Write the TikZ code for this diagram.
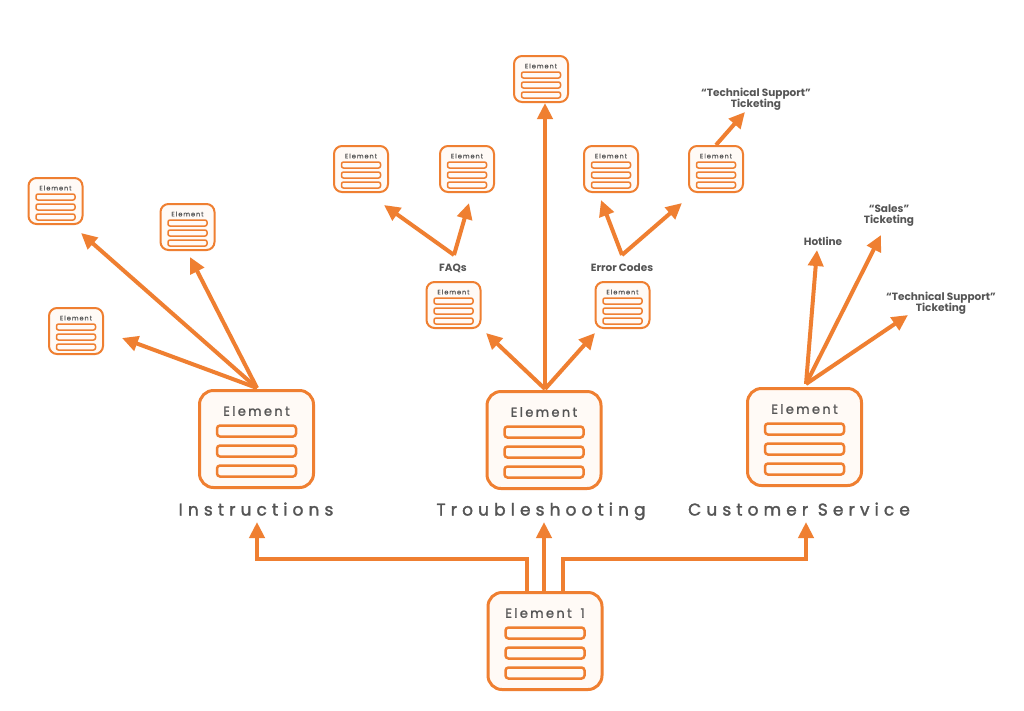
\documentclass[tikz,border=0pt]{standalone}
\usepackage{fontspec}
\setmainfont{Poppins}
\usetikzlibrary{arrows.meta,calc}
\definecolor{org}{HTML}{EF7F31}
\definecolor{boxfill}{HTML}{FFFAF6}
\definecolor{txt}{HTML}{555555}
\tikzset{
 bigbox/.style={draw=org, fill=boxfill, line width=3pt, rounded corners=14pt, minimum width=114pt, minimum height=97pt, anchor=north, inner sep=0pt},
 bigbar/.style={draw=org, line width=2.5pt, rounded corners=3pt, minimum width=79pt, minimum height=11pt, inner sep=0pt},
 bigtitle/.style={text=txt, font=\fontsize{13pt}{15pt}\selectfont\addfontfeature{LetterSpace=18,FakeBold=1.5}, inner sep=0pt},
 smallbox/.style={draw=org, fill=boxfill, line width=2pt, rounded corners=8pt, minimum width=54pt, minimum height=46pt, anchor=north, inner sep=0pt},
 smallbar/.style={draw=org, line width=1.5pt, rounded corners=2pt, minimum width=39pt, minimum height=6pt, inner sep=0pt},
 smalltitle/.style={text=txt, font=\fontsize{6.5pt}{8pt}\selectfont\addfontfeature{LetterSpace=15,FakeBold=1}, inner sep=0pt},
 seclabel/.style={text=txt, font=\fontsize{17pt}{20pt}\selectfont\addfontfeature{LetterSpace=30,FakeBold=1.8}, inner sep=0pt, anchor=base},
 lbl/.style={text=txt, font=\bfseries\fontsize{10.5pt}{12pt}\selectfont, align=center, inner sep=0pt},
 arr/.style={draw=org, line width=4pt, -{Triangle[length=16pt,width=15pt]}},
}
\newcommand\bigel[4]{%
 \node[bigbox] (#1) at (#2,#3) {};
 \node[bigtitle] (#1t) at ($(#1.north)+(0,22)$) {#4};
 \node[bigbar] (#1a) at ($(#1.north)+(0,42)$) {};
 \node[bigbar] (#1b) at ($(#1.north)+(0,62)$) {};
 \node[bigbar] (#1c) at ($(#1.north)+(0,82)$) {};
}
\newcommand\smallel[3]{%
 \node[smallbox] (#1) at (#2,#3) {};
 \node[smalltitle] (#1t) at ($(#1.north)+(0,11)$) {Element};
 \node[smallbar] (#1a) at ($(#1.north)+(0,20)$) {};
 \node[smallbar] (#1b) at ($(#1.north)+(0,30)$) {};
 \node[smallbar] (#1c) at ($(#1.north)+(0,40)$) {};
}
\begin{document}
\begin{tikzpicture}[x=1pt,y=-1pt]
\fill[white] (0,0) rectangle (1024,710);
\useasboundingbox (0,0) rectangle (1024,710);

% big elements
\bigel{root}{545}{591}{Element\hspace{3pt} 1}
\bigel{ins}{256.5}{389}{Element}
\bigel{tro}{544}{390}{Element}
\bigel{cs}{804.5}{387}{Element}

\node[seclabel] (insl) at (256,515.5) {Instructions};
\node[seclabel] (trol) at (541,515.5) {Troubleshooting};
\node[seclabel] (csl) at (799,515.5) {Customer Service};

% small elements
\smallel{sa}{55.5}{177}
\smallel{sb}{187.5}{203}
\smallel{sc}{76}{307}
\smallel{sd}{361}{145}
\smallel{se}{467}{145}
\smallel{sf}{453.5}{281}
\smallel{sg}{541}{55}
\smallel{sh}{622.5}{281}
\smallel{si}{611}{145}
\smallel{sj}{716}{145}

% labels
\node[lbl] (faq) at (453,268) {FAQs};
\node[lbl] (err) at (622,268) {Error Codes};
\node[lbl] (tst) at (756,99) {“Technical Support”\\[-1pt]Ticketing};
\node[lbl] (hot) at (823,241) {Hotline};
\node[lbl] (sal) at (889,216) {“Sales”\\[-1pt]Ticketing};
\node[lbl] (tsc) at (941,303) {“Technical Support”\\[-1pt]Ticketing};

% tips and vertices
\coordinate (insTop) at (257,388);
\coordinate (troTop) at (545,389);
\coordinate (csTop) at (806,384);
\coordinate (faqV) at (454,255);
\coordinate (errV) at (622,255);
\coordinate (tA) at (81,233);
\coordinate (tB) at (190,257);
\coordinate (tC) at (122,338);
\coordinate (tF) at (486,333);
\coordinate (tG) at (545,103);
\coordinate (tH) at (595,333);
\coordinate (tD) at (384,205);
\coordinate (tE) at (469,203);
\coordinate (tI) at (601,200);
\coordinate (tJ) at (682,203);
\coordinate (tT) at (745,112);
\coordinate (tHot) at (817,250);
\coordinate (tSal) at (881,235);
\coordinate (tTsc) at (908,315);
\coordinate (tIns) at (257,522);
\coordinate (tTro) at (544,522);
\coordinate (tCs) at (806,522);

\draw[arr] (insTop) -- (tA);
\draw[arr] (insTop) -- (tB);
\draw[arr] (insTop) -- (tC);
\draw[arr] (troTop) -- (tF);
\draw[arr] (troTop) -- (tG);
\draw[arr] (troTop) -- (tH);
\draw[arr] (faqV) -- (tD);
\draw[arr] (faqV) -- (tE);
\draw[arr] (errV) -- (tI);
\draw[arr] (errV) -- (tJ);
\draw[arr] (sj.north) -- (tT);
\draw[arr] (csTop) -- (tHot);
\draw[arr] (csTop) -- (tSal);
\draw[arr] (csTop) -- (tTsc);

% bottom connectors
\draw[arr] ($(root.north)+(-18,0)$) -- ++(0,-32) -| (tIns);
\draw[arr] ($(root.north)+(-1,0)$) -- (tTro);
\draw[arr] ($(root.north)+(18,0)$) -- ++(0,-32) -| (tCs);
\end{tikzpicture}
\end{document}
